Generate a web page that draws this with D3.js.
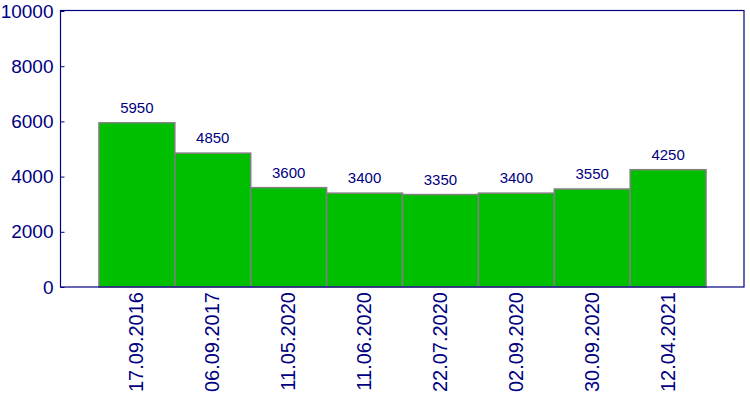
<!DOCTYPE html>
<html>
<head>
<meta charset="utf-8">
<script src="https://d3js.org/d3.v7.min.js"></script>
<style>
  body { margin: 0; background: #fff; }
  text { font-family: "Liberation Sans", Arial, sans-serif; fill: #000080; }
</style>
</head>
<body>
<script>
// Data
var dates = ["17.09.2016", "06.09.2017", "11.05.2020", "11.06.2020",
             "22.07.2020", "02.09.2020", "30.09.2020", "12.04.2021"];
var values = [5950, 4850, 3600, 3400, 3350, 3400, 3550, 4250];
var yTicks = [0, 2000, 4000, 6000, 8000, 10000];

var w = 750, h = 400;
var plotLeft = 61, plotRight = 744, plotTop = 11, plotBottom = 287;

var svg = d3.select("body").append("svg")
    .attr("width", w)
    .attr("height", h);

// Scales
var xScale = d3.scaleBand()
    .domain(dates)
    .range([plotLeft, plotRight])
    .paddingInner(0)
    .paddingOuter(0.5);

var yScale = d3.scaleLinear()
    .domain([0, 10000])
    .range([plotBottom, plotTop]);

// Bars
svg.selectAll("rect.bar")
    .data(values)
    .enter()
    .append("rect")
    .attr("class", "bar")
    .attr("x", function(d, i) { return xScale(dates[i]); })
    .attr("y", function(d) { return yScale(d); })
    .attr("width", xScale.bandwidth())
    .attr("height", function(d) { return plotBottom - yScale(d); })
    .attr("fill", "#00bf00")
    .attr("stroke", "#808080")
    .attr("stroke-width", 1.5);

// Value labels
svg.selectAll("text.val")
    .data(values)
    .enter()
    .append("text")
    .attr("class", "val")
    .attr("x", function(d, i) { return xScale(dates[i]) + xScale.bandwidth() / 2; })
    .attr("y", function(d) { return yScale(d) - 10; })
    .attr("text-anchor", "middle")
    .style("font-size", "15px")
    .text(function(d) { return d; });

// Frame
svg.append("rect")
    .attr("x", plotLeft - 0.5)
    .attr("y", plotTop - 0.5)
    .attr("width", plotRight - plotLeft + 0.5)
    .attr("height", plotBottom - plotTop + 0.5)
    .attr("fill", "none")
    .attr("stroke", "#000080")
    .attr("stroke-width", 1.2);

// Y axis
var yAxis = svg.append("g")
    .attr("transform", "translate(" + (plotLeft - 0.5) + ",0)")
    .call(d3.axisLeft(yScale).tickValues(yTicks).tickSize(-4).tickPadding(8)
          .tickFormat(d3.format("d")));
yAxis.select(".domain").remove();
yAxis.selectAll("line").attr("stroke", "#000080");
yAxis.selectAll("text")
    .style("font-size", "19px")
    .attr("fill", "#000080")
    .attr("x", -7);

// X labels (rotated)
svg.selectAll("text.xl")
    .data(dates)
    .enter()
    .append("text")
    .attr("class", "xl")
    .attr("transform", function(d) {
        return "translate(" + (xScale(d) + xScale.bandwidth() / 2) + "," + (plotBottom + 5) + ") rotate(-90)";
    })
    .attr("text-anchor", "end")
    .attr("dy", "0.33em")
    .style("font-size", "20px")
    .text(function(d) { return d; });
</script>
</body>
</html>
